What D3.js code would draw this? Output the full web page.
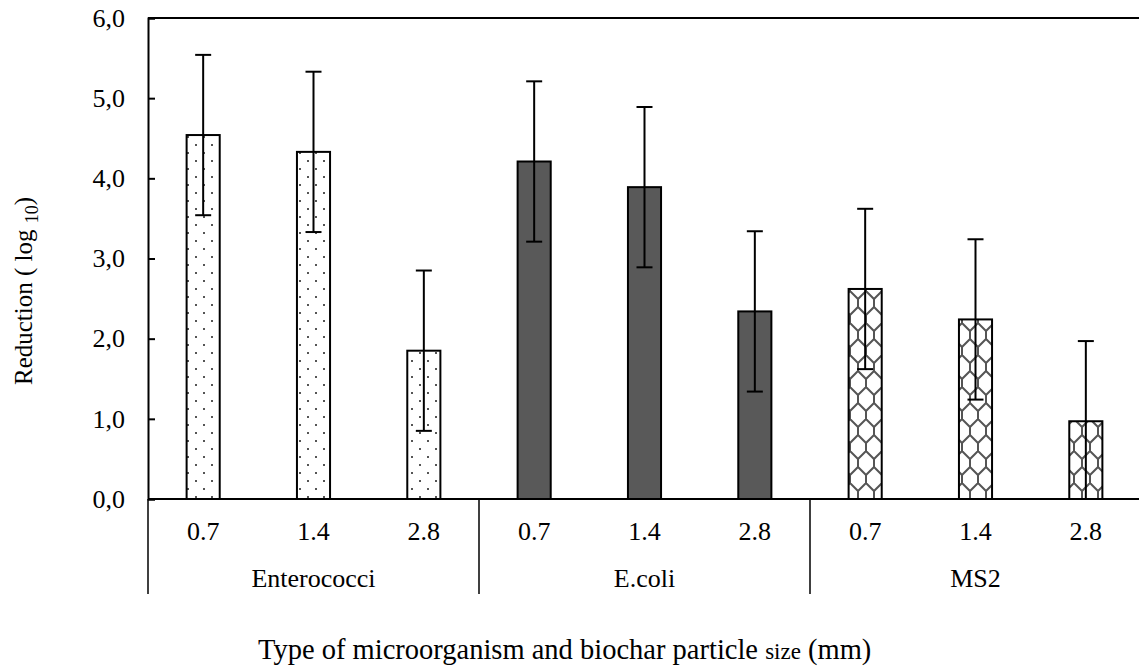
<!DOCTYPE html>
<html>
<head>
<meta charset="utf-8">
<script src="https://cdn.jsdelivr.net/npm/d3@7"></script>
<style>
  body { margin: 0; background: #fff; }
  text { font-family: "Liberation Serif", "Times New Roman", serif; fill: #000; }
</style>
</head>
<body>
<svg id="chart" width="1139" height="670"></svg>
<script>
// Data
var organisms = ["Enterococci", "E.coli", "MS2"];
var sizes = ["0.7", "1.4", "2.8"];
var enterococci = [4.54, 4.33, 1.85];
var ecoli = [4.21, 3.89, 2.34];
var ms2 = [2.62, 2.24, 0.97];
var errors = [1.0, 1.0, 1.0];
var yTicks = [0, 1, 2, 3, 4, 5, 6];

var series = [enterococci, ecoli, ms2];
var rows = [];
organisms.forEach(function(org, g) {
  sizes.forEach(function(s, i) {
    rows.push({org: org, size: s, key: org + "|" + s, value: series[g][i], err: errors[i], group: g});
  });
});

var margin = {top: 18, left: 148, bottom: 171, right: -2};
var svg = d3.select("#chart");
var W = +svg.attr("width"), H = +svg.attr("height");
var x0 = margin.left, x1 = W - margin.right;
var yBase = H - margin.bottom;

var x = d3.scaleBand()
  .domain(rows.map(function(d) { return d.key; }))
  .range([x0, x1])
  .paddingInner(0).paddingOuter(0);

var y = d3.scaleLinear().domain([0, 6]).range([yBase, margin.top]);

// Fill patterns
var defs = svg.append("defs");
var dots = defs.append("pattern").attr("id", "dots")
  .attr("patternUnits", "userSpaceOnUse").attr("width", 16).attr("height", 16);
dots.append("rect").attr("width", 16).attr("height", 16).attr("fill", "#fff");
dots.append("rect").attr("x", 3).attr("y", 0).attr("width", 2).attr("height", 2).attr("fill", "#555");
dots.append("rect").attr("x", 11).attr("y", 8).attr("width", 2).attr("height", 2).attr("fill", "#555");

var weave = defs.append("pattern").attr("id", "weave")
  .attr("patternUnits", "userSpaceOnUse").attr("width", 16).attr("height", 16)
  .attr("patternTransform", "translate(2,3) scale(2)");
weave.append("rect").attr("width", 16).attr("height", 16).attr("fill", "#fff");
weave.append("path")
  .attr("d", "M0,0 L4,4 L8,0 M4,4 L4,8 L0,12 M4,8 L8,12 L12,8 L16,12 M12,8 L12,4 L8,0 M12,4 L16,0 M8,12 L8,16 M0,12 L0,16 M16,12 L16,16")
  .attr("stroke", "#555").attr("stroke-width", 1).attr("fill", "none");

var fills = ["url(#dots)", "#595959", "url(#weave)"];
var bw = x.bandwidth() * 0.3;

// Top border
svg.append("line").attr("x1", x0).attr("x2", W).attr("y1", margin.top).attr("y2", margin.top)
  .attr("stroke", "#000").attr("stroke-width", 2);

// Bars
svg.selectAll("rect.bar").data(rows).enter().append("rect")
  .attr("class", "bar")
  .attr("x", function(d) { return x(d.key) + (x.bandwidth() - bw) / 2; })
  .attr("y", function(d) { return y(d.value); })
  .attr("width", bw)
  .attr("height", function(d) { return y(0) - y(d.value); })
  .attr("fill", function(d) { return fills[d.group]; })
  .attr("stroke", "#000").attr("stroke-width", 2);

// Error bars (lower end kept above the baseline)
var eb = svg.selectAll("g.err").data(rows).enter().append("g").attr("class", "err")
  .attr("stroke", "#000").attr("stroke-width", 2);
eb.append("line")
  .attr("x1", function(d) { return x(d.key) + x.bandwidth() / 2; })
  .attr("x2", function(d) { return x(d.key) + x.bandwidth() / 2; })
  .attr("y1", function(d) { return y(Math.max(0, d.value - d.err)); })
  .attr("y2", function(d) { return y(d.value + d.err); });
[1, -1].forEach(function(s) {
  eb.append("line")
    .attr("x1", function(d) { return x(d.key) + x.bandwidth() / 2 - 8; })
    .attr("x2", function(d) { return x(d.key) + x.bandwidth() / 2 + 8; })
    .attr("y1", function(d) { return y(Math.max(0, d.value + s * d.err)); })
    .attr("y2", function(d) { return y(Math.max(0, d.value + s * d.err)); });
});

// Y axis
var yAxis = svg.append("g").attr("transform", "translate(" + x0 + ",0)")
  .call(d3.axisLeft(y).tickValues(yTicks).tickSize(-7).tickPadding(23)
    .tickFormat(function(d) { return d3.format(".1f")(d).replace(".", ","); }));
yAxis.select(".domain").attr("stroke-width", 2);
yAxis.selectAll(".tick line").attr("stroke-width", 2);
yAxis.selectAll("text").style("font-size", "26px").style("font-family", "Liberation Serif");

// X baseline
svg.append("line").attr("x1", x0).attr("x2", W).attr("y1", yBase).attr("y2", yBase)
  .attr("stroke", "#000").attr("stroke-width", 2);

// Size labels
svg.selectAll("text.size").data(rows).enter().append("text")
  .attr("class", "size")
  .attr("x", function(d) { return x(d.key) + x.bandwidth() / 2; })
  .attr("y", yBase + 41)
  .attr("text-anchor", "middle")
  .style("font-size", "26px")
  .text(function(d) { return d.size; });

// Group separators and labels
var groupW = x.bandwidth() * sizes.length;
organisms.forEach(function(org, g) {
  var gx = x(org + "|" + sizes[0]);
  svg.append("line").attr("x1", gx).attr("x2", gx).attr("y1", yBase).attr("y2", yBase + 95)
    .attr("stroke", "#000").attr("stroke-width", 1.5);
  svg.append("text").attr("x", gx + groupW / 2).attr("y", yBase + 88)
    .attr("text-anchor", "middle").style("font-size", "26px").text(org);
});

// Y title
var yt = svg.append("text")
  .attr("transform", "translate(32,291) rotate(-90)")
  .attr("text-anchor", "middle").style("font-size", "25px");
yt.append("tspan").text("Reduction ( log ");
yt.append("tspan").attr("dy", 6).style("font-size", "18px").text("10");
yt.append("tspan").attr("dy", -6).text(")");

// X title
var xt = svg.append("text").attr("x", 258).attr("y", 659)
  .attr("text-anchor", "start").style("font-size", "28.5px");
xt.append("tspan").text("Type of microorganism and biochar particle ");
xt.append("tspan").style("font-size", "23px").text("size");
xt.append("tspan").text(" (mm)");
</script>
</body>
</html>
